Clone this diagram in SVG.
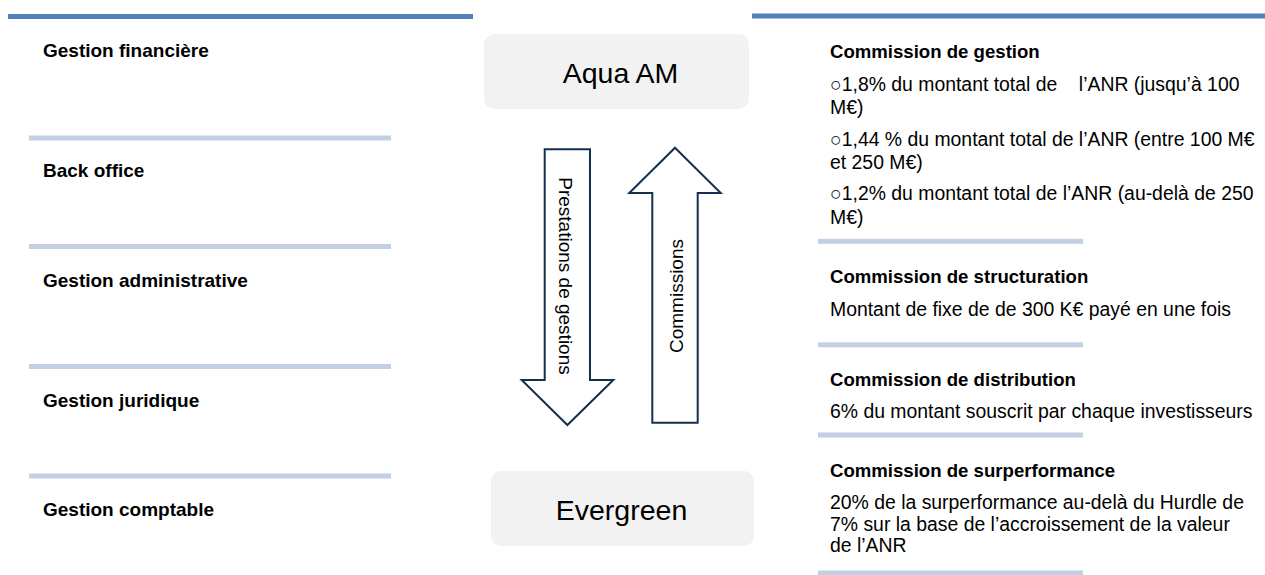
<svg xmlns="http://www.w3.org/2000/svg" width="1265" height="575" viewBox="0 0 1265 575">
<style>
  text { font-family: "Liberation Sans", Arial, sans-serif; fill: #000; }
  .lbl { font-size: 19px; font-weight: bold; }
  .head { font-size: 18.6px; font-weight: bold; }
  .body { font-size: 19.4px; white-space: pre; }
  .big { font-size: 28.5px; text-anchor: middle; }
  .arrtxt { font-size: 19px; text-anchor: middle; }
  .thick { fill: #4F81BD; }
  .thin { fill: #C3CFE2; }
  .box { fill: #F2F2F2; }
  .arrow { fill: #FFFFFF; stroke: #14304F; stroke-width: 2; stroke-linejoin: miter; }
</style>

<g id="left-column">
  <rect class="thick" x="8" y="14" width="465" height="5"/>
  <g id="gestion-financiere"><text class="lbl" x="43" y="57">Gestion financière</text></g>
  <rect class="thin" x="29" y="135.5" width="362" height="5"/>
  <g id="back-office"><text class="lbl" x="43" y="177">Back office</text></g>
  <rect class="thin" x="29" y="244" width="362" height="5"/>
  <g id="gestion-administrative"><text class="lbl" x="43" y="287">Gestion administrative</text></g>
  <rect class="thin" x="29" y="364" width="362" height="5"/>
  <g id="gestion-juridique"><text class="lbl" x="43" y="407">Gestion juridique</text></g>
  <rect class="thin" x="29" y="473.5" width="362" height="5"/>
  <g id="gestion-comptable"><text class="lbl" x="43" y="516">Gestion comptable</text></g>
</g>

<g id="aqua-am">
  <rect class="box" x="484" y="34" width="265" height="75" rx="10" ry="10"/>
  <text class="big" x="620.5" y="82.7">Aqua AM</text>
</g>

<g id="evergreen">
  <rect class="box" x="491" y="471" width="263" height="75" rx="10" ry="10"/>
  <text class="big" x="621.5" y="520">Evergreen</text>
</g>

<g id="connectors">
  <g id="arrow-prestations">
    <polygon class="arrow" points="544.7,149.3 590,149.3 590,380 613.3,380 567.4,425 521.7,380 544.7,380"/>
    <text class="arrtxt" transform="translate(559,276) rotate(90)">Prestations de gestions</text>
  </g>
  <g id="arrow-commissions">
    <polygon class="arrow" points="675,147.7 720.7,193 697.7,193 697.7,422.7 652.3,422.7 652.3,193 629.3,193"/>
    <text class="arrtxt" transform="translate(683,296) rotate(-90)">Commissions</text>
  </g>
</g>

<g id="right-column">
  <rect class="thick" x="752" y="13.5" width="513" height="5"/>
  <g id="commission-gestion">
    <text class="head" x="830" y="58">Commission de gestion</text>
    <text class="body" x="830" y="90.5">○1,8% du montant total de    l’ANR (jusqu’à 100</text>
    <text class="body" x="830" y="114">M€)</text>
    <text class="body" x="830" y="145.5">○1,44 % du montant total de l’ANR (entre 100 M€</text>
    <text class="body" x="830" y="169">et 250 M€)</text>
    <text class="body" x="830" y="200">○1,2% du montant total de l’ANR (au-delà de 250</text>
    <text class="body" x="830" y="223.5">M€)</text>
  </g>
  <rect class="thin" x="818" y="238.8" width="265" height="5"/>
  <g id="commission-structuration">
    <text class="head" x="830" y="283.3">Commission de structuration</text>
    <text class="body" x="830" y="316">Montant de fixe de de 300 K€ payé en une fois</text>
  </g>
  <rect class="thin" x="818" y="342.3" width="265" height="5"/>
  <g id="commission-distribution">
    <text class="head" x="830" y="385.7">Commission de distribution</text>
    <text class="body" x="830" y="418.3">6% du montant souscrit par chaque investisseurs</text>
  </g>
  <rect class="thin" x="818" y="432.5" width="265" height="5"/>
  <g id="commission-surperformance">
    <text class="head" x="830" y="476.7">Commission de surperformance</text>
    <text class="body" x="830" y="509.3">20% de la surperformance au-delà du Hurdle de</text>
    <text class="body" x="830" y="530.5">7% sur la base de l’accroissement de la valeur</text>
    <text class="body" x="830" y="552">de l’ANR</text>
  </g>
  <rect class="thin" x="818" y="570.5" width="265" height="5"/>
</g>
</svg>
